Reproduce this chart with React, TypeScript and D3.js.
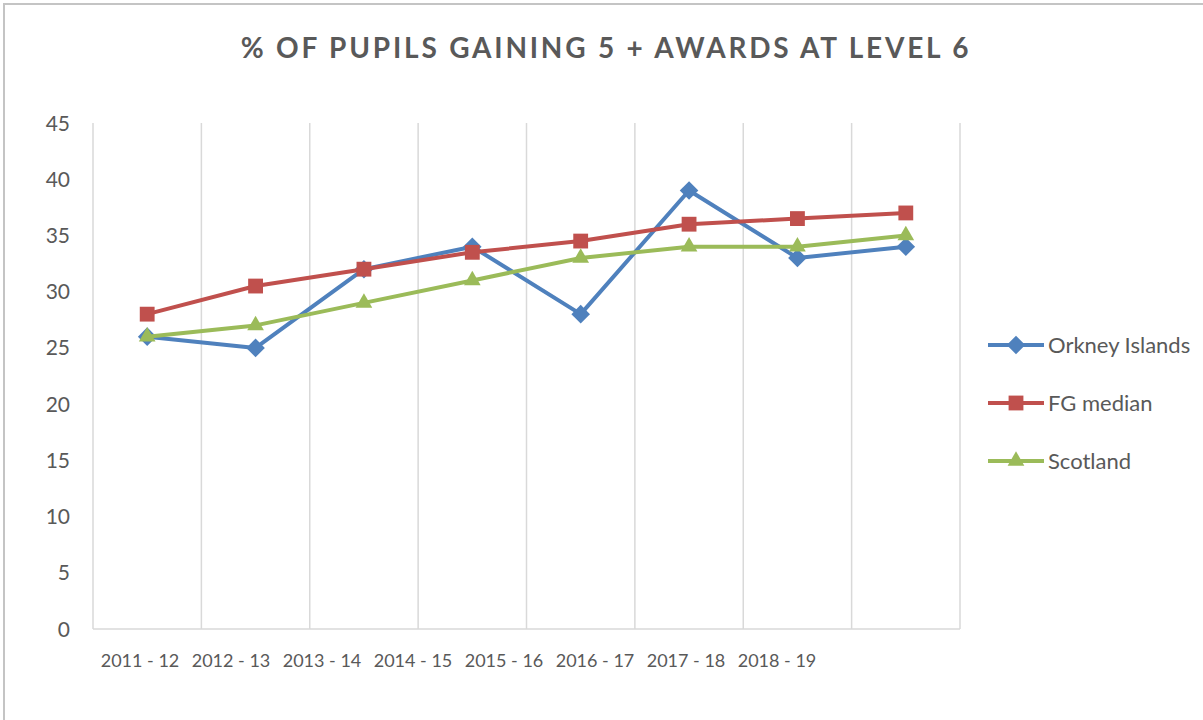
import * as d3 from "d3";
import { useEffect, useRef } from "react";

const categories = ["2011 - 12", "2012 - 13", "2013 - 14", "2014 - 15", "2015 - 16", "2016 - 17", "2017 - 18", "2018 - 19"];
const orkney = [26, 25, 32, 34, 28, 39, 33, 34];
const fgMedian = [28, 30.5, 32, 33.5, 34.5, 36, 36.5, 37];
const scotland = [26, 27, 29, 31, 33, 34, 34, 35];
const yTicks = [0, 5, 10, 15, 20, 25, 30, 35, 40, 45];

const series = [
  { name: "Orkney Islands", values: orkney, color: "#4f81bd", symbol: d3.symbolDiamond2, size: 220 },
  { name: "FG median", values: fgMedian, color: "#c0504d", symbol: d3.symbolSquare2, size: 280 },
  { name: "Scotland", values: scotland, color: "#9bbb59", symbol: d3.symbolTriangle2, size: 200 },
];

const width = 1203;
const height = 720;
const font = "Lato, 'Noto Sans', sans-serif";

function LineChart() {
  const svgRef = useRef(null);

  useEffect(() => {
    const svg = d3.select(svgRef.current);
    svg.selectAll("*").remove();

    const x = d3.scaleBand().domain(categories).range([93, 960]);
    const y = d3.scaleLinear().domain([0, 45]).range([629, 123]);
    // the category labels sit packed together, not under their bands
    const xLabel = d3.scalePoint().domain(categories).range([140, 777]);

    svg
      .append("rect")
      .attr("width", width)
      .attr("height", height)
      .attr("fill", "white");

    // chart frame: only its top and left edges are inside the picture
    svg
      .append("path")
      .attr("d", `M4,${height} V4 H${width}`)
      .attr("fill", "none")
      .attr("stroke", "#c4c4c4")
      .attr("stroke-width", 2);

    svg
      .append("text")
      .attr("x", 606)
      .attr("y", 58)
      .attr("text-anchor", "middle")
      .attr("font-family", font)
      .attr("font-size", 28)
      .attr("font-weight", "bold")
      .attr("letter-spacing", 2.8)
      .attr("fill", "#595959")
      .text("% OF  PUPILS GAINING 5 + AWARDS AT LEVEL 6");

    // vertical gridlines at category boundaries
    const bounds = categories.map((c) => x(c)).concat([x.range()[1]]);
    svg
      .append("g")
      .selectAll("line")
      .data(bounds)
      .join("line")
      .attr("x1", (d) => d)
      .attr("x2", (d) => d)
      .attr("y1", y(45))
      .attr("y2", y(0))
      .attr("stroke", "#d9d9d9")
      .attr("stroke-width", 1.5);

    svg
      .append("line")
      .attr("x1", x.range()[0])
      .attr("x2", x.range()[1])
      .attr("y1", y(0))
      .attr("y2", y(0))
      .attr("stroke", "#d9d9d9")
      .attr("stroke-width", 1.5);

    svg
      .append("g")
      .selectAll("text")
      .data(yTicks)
      .join("text")
      .attr("x", 70)
      .attr("y", (d) => y(d))
      .attr("dy", "0.36em")
      .attr("text-anchor", "end")
      .attr("font-family", font)
      .attr("font-size", 21)
      .attr("fill", "#595959")
      .text((d) => d);

    svg
      .append("g")
      .selectAll("text")
      .data(categories)
      .join("text")
      .attr("x", (d) => xLabel(d))
      .attr("y", 667)
      .attr("text-anchor", "middle")
      .attr("font-family", font)
      .attr("font-size", 18)
      .attr("fill", "#595959")
      .text((d) => d);

    const line = d3
      .line()
      .x((d, i) => x(categories[i]) + x.bandwidth() / 2)
      .y((d) => y(d));

    series.forEach((s) => {
      svg
        .append("path")
        .datum(s.values)
        .attr("fill", "none")
        .attr("stroke", s.color)
        .attr("stroke-width", 4)
        .attr("stroke-linejoin", "round")
        .attr("d", line);
      svg
        .append("g")
        .selectAll("path")
        .data(s.values)
        .join("path")
        .attr("transform", (d, i) => `translate(${x(categories[i]) + x.bandwidth() / 2},${y(d)})`)
        .attr("d", d3.symbol(s.symbol, s.size))
        .attr("fill", s.color);
    });

    // legend
    const legendY = d3.scalePoint().domain(series.map((s) => s.name)).range([345, 461]);
    const lg = svg
      .append("g")
      .selectAll("g")
      .data(series)
      .join("g")
      .attr("transform", (d) => `translate(988,${legendY(d.name)})`);
    lg.append("line")
      .attr("x1", 0)
      .attr("x2", 56)
      .attr("stroke", (d) => d.color)
      .attr("stroke-width", 4);
    lg.append("path")
      .attr("transform", "translate(28,0)")
      .attr("d", (d) => d3.symbol(d.symbol, d.size)())
      .attr("fill", (d) => d.color);
    lg.append("text")
      .attr("x", 60)
      .attr("dy", "0.36em")
      .attr("font-family", font)
      .attr("font-size", 22)
      .attr("fill", "#595959")
      .text((d) => d.name);
  }, []);

  return (
    <svg
      ref={svgRef}
      width={width}
      height={height}
      style={{ position: "absolute", left: 0, top: 0, display: "block" }}
    />
  );
}

export default function App() {
  return <LineChart />;
}
